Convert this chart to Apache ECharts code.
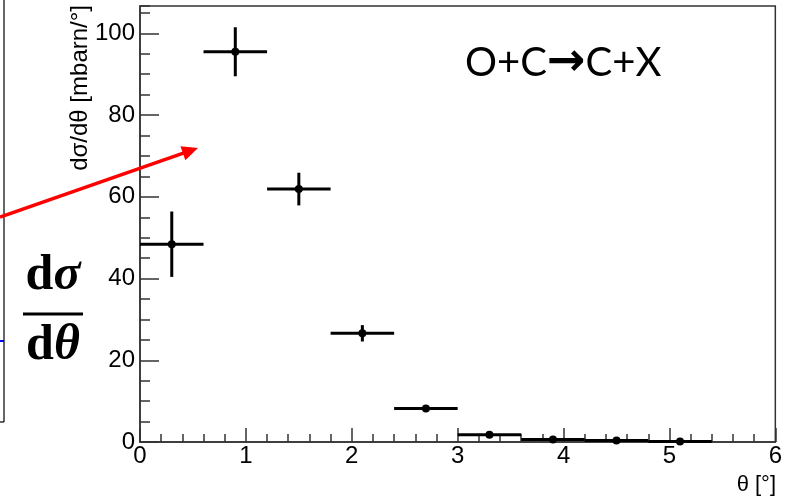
<!DOCTYPE html>
<html>
<head>
<meta charset="utf-8">
<script src="https://cdn.jsdelivr.net/npm/echarts@6/dist/echarts.min.js"></script>
<style>html,body{margin:0;padding:0;background:#fff}#c{width:785px;height:496px}</style>
</head>
<body>
<div id="c"></div>
<script>
// ---- data ----
const thetaCenters = [0.3, 0.9, 1.5, 2.1, 2.7, 3.3, 3.9, 4.5, 5.1];
const thetaHalfWidths = [0.3, 0.3, 0.3, 0.3, 0.3, 0.3, 0.3, 0.3, 0.3];
const dsigmaValues = [48.4, 95.5, 61.9, 26.6, 8.2, 1.8, 0.6, 0.35, 0.1];
const dsigmaErrors = [8.0, 6.0, 4.0, 2.0, 0.5, 0.3, 0.2, 0.1, 0.1];
const xTickLabels = ['0', '1', '2', '3', '4', '5', '6'];
const yTickLabels = ['0', '20', '40', '60', '80', '100'];
const yTitle = 'dσ/dθ [mbarn/°]';
const xTitle = 'θ [°]';
const reactionParts = ['O+C', '→', 'C+X'];

const rows = thetaCenters.map((x, i) => [x, dsigmaValues[i], thetaHalfWidths[i], dsigmaErrors[i]]);

const chart = echarts.init(document.getElementById('c'));
const font = '"Liberation Sans", Arial, sans-serif';
const axisColor = '#333';

function renderItem(params, api) {
  const x = api.value(0), y = api.value(1), xe = api.value(2), ye = api.value(3);
  const c = api.coord([x, y]);
  const l = api.coord([x - xe, y]), r = api.coord([x + xe, y]);
  const t = api.coord([x, y + ye]), b = api.coord([x, y - ye]);
  return {
    type: 'group',
    children: [
      { type: 'line', shape: { x1: l[0], y1: l[1], x2: r[0], y2: r[1] }, style: { stroke: '#000', lineWidth: 3 } },
      { type: 'line', shape: { x1: t[0], y1: t[1], x2: b[0], y2: b[1] }, style: { stroke: '#000', lineWidth: 3 } },
      { type: 'circle', shape: { cx: c[0], cy: c[1], r: 4 }, style: { fill: '#000' } }
    ]
  };
}

// arrow geometry helper (annotation)
const arrStart = [0, 217], arrTip = [198, 148];
const dx = arrTip[0] - arrStart[0], dy = arrTip[1] - arrStart[1];
const len = Math.hypot(dx, dy), ux = dx / len, uy = dy / len;
const headL = 16, headW = 7.5;
const base = [arrTip[0] - ux * headL, arrTip[1] - uy * headL];

const yMax = 106.7;
const serifRich = {
  u: { fontFamily: '"Liberation Serif", serif', fontWeight: 'bold', fontSize: 50, fill: '#000' },
  i: { fontFamily: '"Liberation Serif", serif', fontWeight: 'bold', fontStyle: 'italic', fontSize: 50, fill: '#000' }
};

chart.setOption({
  animation: false,
  backgroundColor: '#fff',
  grid: { left: 140, right: 7, top: 6, bottom: 54, show: true, borderColor: axisColor, borderWidth: 1.5, backgroundColor: 'transparent' },
  xAxis: [
    {
      type: 'value', min: 0, max: 6, interval: 1, position: 'bottom',
      axisLine: { show: true, lineStyle: { color: axisColor, width: 1.5 } },
      axisTick: { show: true, inside: true, length: 14, lineStyle: { color: axisColor, width: 1.5 } },
      axisLabel: { color: '#000', fontFamily: font, fontSize: 24, margin: 2,
        formatter: v => { const i = Math.round(v); return Math.abs(v - i) < 1e-6 ? xTickLabels[i] : ''; } },
      splitLine: { show: false }
    },
    {
      type: 'value', min: 0, max: 6, interval: 0.2, position: 'bottom',
      axisLine: { show: false },
      axisTick: { show: true, inside: true, length: 8, lineStyle: { color: axisColor, width: 1.5 } },
      axisLabel: { show: false },
      splitLine: { show: false }
    }
  ],
  yAxis: [
    {
      type: 'value', min: 0, max: yMax, interval: 20, position: 'left',
      axisLine: { show: true, lineStyle: { color: axisColor, width: 1.5 } },
      axisTick: { show: true, inside: true, length: 19, lineStyle: { color: axisColor, width: 1.5 } },
      axisLabel: { color: '#000', fontFamily: font, fontSize: 24, margin: 5, showMaxLabel: false,
        formatter: v => { const i = Math.round(v / 20); return Math.abs(v - i * 20) < 1e-6 ? yTickLabels[i] : ''; } },
      splitLine: { show: false }
    },
    {
      type: 'value', min: 0, max: yMax, interval: 5, position: 'left',
      axisLine: { show: false },
      axisTick: { show: true, inside: true, length: 10, lineStyle: { color: axisColor, width: 1.5 } },
      axisLabel: { show: false },
      splitLine: { show: false }
    }
  ],
  series: [{
    type: 'custom', xAxisIndex: 0, yAxisIndex: 0, renderItem: renderItem,
    data: rows, clip: false, z: 5
  }],
  graphic: [
    // fragment of neighbouring panel
    { type: 'line', shape: { x1: 4, y1: 0, x2: 4, y2: 422 }, style: { stroke: '#000', lineWidth: 1.2 } },
    { type: 'line', shape: { x1: 0, y1: 422, x2: 4, y2: 422 }, style: { stroke: '#000', lineWidth: 1.2 } },
    { type: 'line', shape: { x1: 0, y1: 341, x2: 4, y2: 341 }, style: { stroke: '#0000ff', lineWidth: 2 } },
    // red arrow
    { type: 'line', shape: { x1: arrStart[0], y1: arrStart[1], x2: base[0] + ux * 2, y2: base[1] + uy * 2 }, style: { stroke: '#ff0000', lineWidth: 3.5 }, z: 10 },
    { type: 'polygon', shape: { points: [arrTip, [base[0] - uy * headW, base[1] + ux * headW], [base[0] + uy * headW, base[1] - ux * headW]] }, style: { fill: '#ff0000' }, z: 10 },
    // fraction dσ/dθ
    { type: 'text', x: 53, y: 276, style: { text: '{u|d}{i|σ}', align: 'center', verticalAlign: 'middle', rich: serifRich } },
    { type: 'rect', shape: { x: 23, y: 312.5, width: 60, height: 3 }, style: { fill: '#000' } },
    { type: 'text', x: 53, y: 346, style: { text: '{u|d}{i|θ}', align: 'center', verticalAlign: 'middle', rich: serifRich } },
    // axis titles
    { type: 'text', x: 80, y: 5, rotation: Math.PI / 2, style: { text: yTitle, align: 'right', verticalAlign: 'middle', fontFamily: font, fontSize: 24, fill: '#000' } },
    { type: 'text', x: 776, y: 485, style: { text: xTitle, align: 'right', verticalAlign: 'middle', fontFamily: font, fontSize: 22, fill: '#000' } },
    // reaction label
    { type: 'text', x: 465, y: 63, style: { text: '{a|' + reactionParts[0] + '}{b|' + reactionParts[1] + '}{a|' + reactionParts[2] + '}', align: 'left', verticalAlign: 'middle',
        rich: { a: { fontFamily: 'Lato, "Open Sans", sans-serif', fontSize: 40, fill: '#000' },
                b: { fontFamily: '"DejaVu Sans", sans-serif', fontWeight: 'bold', fontSize: 46, fill: '#000' } } } }
  ]
});
</script>
</body>
</html>
